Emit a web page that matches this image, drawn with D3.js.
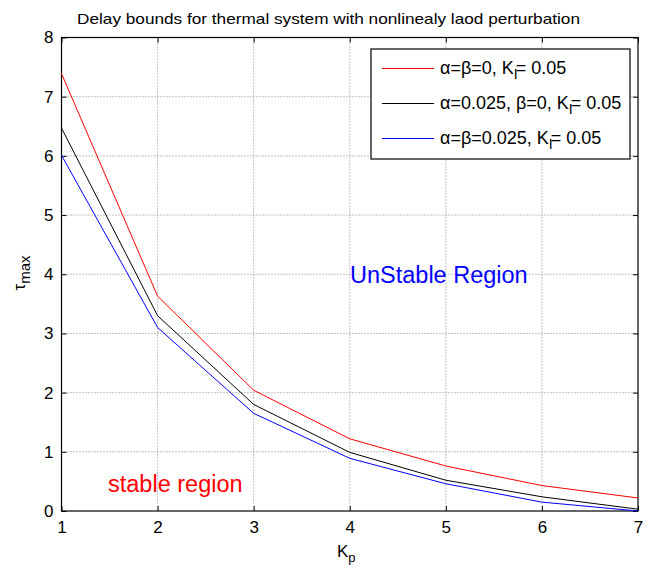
<!DOCTYPE html>
<html><head><meta charset="utf-8">
<script src="https://cdn.jsdelivr.net/npm/d3@7"></script>
<style>body{margin:0;background:#fff}svg{font-family:"Liberation Sans",Arial,sans-serif}</style>
</head><body>
<svg id="c" width="654" height="568"></svg>
<script>
const kp = [1,2,3,4,5,6,7];
const redVals = [7.39,3.63,2.04,1.22,0.76,0.43,0.22];
const blackVals = [6.47,3.30,1.80,0.99,0.52,0.24,0.03];
const blueVals = [6.01,3.10,1.65,0.89,0.46,0.15,0.00];
const xTicks = [1,2,3,4,5,6,7];
const yTicks = [0,1,2,3,4,5,6,7,8];

const svg = d3.select("#c");
const L=61.5,R=638,T=37.5,B=511;
const x = d3.scaleLinear().domain([1,7]).range([L,R]);
const y = d3.scaleLinear().domain([0,8]).range([B,T]);

// grid
const g = svg.append("g");
g.selectAll(".gx").data(xTicks.slice(1,-1)).enter().append("line")
 .attr("x1",d=>x(d)).attr("x2",d=>x(d)).attr("y1",T).attr("y2",B)
 .attr("stroke","#555").attr("stroke-width",0.7).attr("stroke-dasharray","1,2");
g.selectAll(".gy").data(yTicks.slice(1,-1)).enter().append("line")
 .attr("y1",d=>y(d)).attr("y2",d=>y(d)).attr("x1",L).attr("x2",R)
 .attr("stroke","#555").attr("stroke-width",0.7).attr("stroke-dasharray","1,2");

// axes
const fs = 17;
const xa = svg.append("g").attr("transform",`translate(0,${B})`)
 .call(d3.axisBottom(x).tickValues(xTicks).tickSize(-5).tickPadding(10).tickFormat(d3.format("d")));
const xt = svg.append("g").attr("transform",`translate(0,${T})`)
 .call(d3.axisTop(x).tickValues(xTicks).tickSize(-5).tickFormat(""));
const ya = svg.append("g").attr("transform",`translate(${L},0)`)
 .call(d3.axisLeft(y).tickValues(yTicks).tickSize(-5).tickPadding(8).tickFormat(d3.format("d")));
const yr = svg.append("g").attr("transform",`translate(${R},0)`)
 .call(d3.axisRight(y).tickValues(yTicks).tickSize(-5).tickFormat(""));
[xa,xt,ya,yr].forEach(a=>{
  a.select(".domain").remove();
  a.selectAll("line").attr("stroke","#000");
  a.selectAll("text").attr("font-size",fs).attr("font-family","Liberation Sans, Arial, sans-serif").attr("fill","#000");
});
svg.append("rect").attr("x",L).attr("y",T).attr("width",R-L).attr("height",B-T)
 .attr("fill","none").attr("stroke","#000").attr("stroke-width",1.2);

// lines
const line = d3.line().x((d,i)=>x(kp[i])).y(d=>y(d));
[[redVals,"#ff0000"],[blackVals,"#000000"],[blueVals,"#0000ff"]].forEach(([v,c])=>{
  svg.append("path").attr("d",line(v)).attr("fill","none").attr("stroke",c).attr("stroke-width",1);
});

// title
svg.append("text").attr("x",328.5).attr("y",24).attr("text-anchor","middle")
 .attr("font-size",15).attr("textLength",503).attr("lengthAdjust","spacingAndGlyphs")
 .text("Delay bounds for thermal system with nonlinealy laod perturbation");

// axis labels
const xl = svg.append("text").attr("x",337).attr("y",557).attr("font-size",fs);
xl.append("tspan").text("K");
xl.append("tspan").attr("font-size",13).attr("dy",5).text("p");
const ylab = svg.append("text").attr("transform","translate(25,273) rotate(-90)").attr("text-anchor","middle").attr("font-size",fs);
ylab.append("tspan").text("τ");
ylab.append("tspan").attr("font-size",15).attr("dy",5).text("max");

// annotations
svg.append("text").attr("x",108).attr("y",492).attr("font-size",23.5).attr("fill","#ff0000").text("stable region");
svg.append("text").attr("x",350).attr("y",283).attr("font-size",23.5).attr("fill","#0000ff").text("UnStable Region");

// legend
svg.append("rect").attr("x",371).attr("y",49).attr("width",259).attr("height",110)
 .attr("fill","#fff").attr("stroke","#000").attr("stroke-width",1.2);
const legItems = [
  {c:"#ff0000", pre:"α=β=0, K"},
  {c:"#000000", pre:"α=0.025, β=0, K"},
  {c:"#0000ff", pre:"α=β=0.025, K"}
];
legItems.forEach((d,i)=>{
  const yy = 68.5 + i*35;
  svg.append("line").attr("x1",382).attr("x2",434).attr("y1",yy).attr("y2",yy).attr("stroke",d.c).attr("stroke-width",1);
  const t = svg.append("text").attr("x",440).attr("y",yy+5.5).attr("font-size",18);
  t.append("tspan").text(d.pre);
  t.append("tspan").attr("font-size",14).attr("dy",5).text("I");
  t.append("tspan").attr("dy",-5).attr("dx",-2).text("= 0.05");
});
</script>
</body></html>
